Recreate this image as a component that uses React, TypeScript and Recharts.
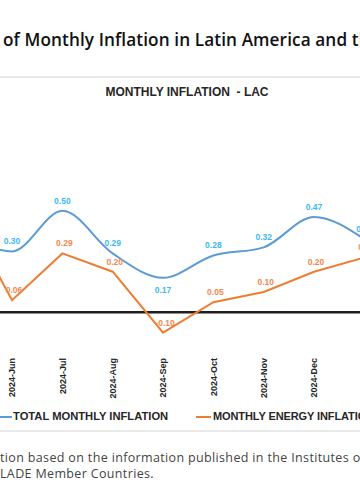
import { LineChart, Line, XAxis, YAxis, ReferenceLine, LabelList } from 'recharts';

const MONTHS = ['2024-May', '2024-Jun', '2024-Jul', '2024-Aug', '2024-Sep', '2024-Oct', '2024-Nov', '2024-Dec', '2025-Jan'];
const TOTAL = [0.4, 0.3, 0.5, 0.29, 0.17, 0.28, 0.32, 0.47, 0.36];
const ENERGY = [0.52, 0.06, 0.29, 0.2, -0.1, 0.05, 0.1, 0.2, 0.27];
const Y_DOMAIN = [-0.2, 0.7];

const BLUE = '#5b9bd5';
const ORANGE = '#ed7d31';
const BLUE_LABEL = '#3db8f2';
const ORANGE_LABEL = '#f0894d';
const CHART_FONT = '"Liberation Sans", Arial, sans-serif';
const TITLE_FONT = '"Open Sans", sans-serif';

const data = MONTHS.map((m, i) => ({ month: m, total: TOTAL[i], energy: ENERGY[i] }));
const minTotal = Math.min(...TOTAL);

function MonthTick({ x, y, payload }: any) {
  return (
    <text
      transform={`translate(${x},${y + 5}) rotate(-90)`}
      textAnchor="end"
      dy="0.35em"
      fontSize={9}
      fontWeight={700}
      fill="#262626"
      fontFamily={CHART_FONT}
    >
      {payload.value}
    </text>
  );
}

function totalLabel({ x, y, value }: any) {
  // el mínimo lleva la etiqueta debajo
  const below = value === minTotal;
  return (
    <text x={x} y={below ? y + 15 : y - 7} textAnchor="middle" fontSize={8.5} fontWeight={700} fill={BLUE_LABEL} fontFamily={CHART_FONT}>
      {Number(value).toFixed(2)}
    </text>
  );
}

function energyLabel({ x, y, value }: any) {
  return (
    <text x={x + 2} y={y - 7} textAnchor="middle" fontSize={8.5} fontWeight={700} fill={ORANGE_LABEL} fontFamily={CHART_FONT}>
      {Number(value).toFixed(2)}
    </text>
  );
}

export default function App() {
  return (
    <div style={{ position: 'absolute', left: 0, top: 0, width: 360, height: 504, overflow: 'hidden', background: '#fff' }}>
      <div
        style={{
          position: 'absolute', left: 3, top: 27, whiteSpace: 'nowrap',
          fontFamily: TITLE_FONT, fontWeight: 600, fontSize: 17.2, letterSpacing: 0.1, color: '#111', lineHeight: '26px',
        }}
      >
        of Monthly Inflation in Latin America and the Caribbean
      </div>
      <div style={{ position: 'absolute', left: 0, top: 76, width: 360, height: 2, background: '#e9e9e9' }} />

      <div
        style={{
          position: 'absolute', left: 0, top: 85, width: 374, textAlign: 'center', whiteSpace: 'nowrap',
          fontFamily: CHART_FONT, fontWeight: 700, fontSize: 12, color: '#262626', lineHeight: '14px',
        }}
      >
        MONTHLY INFLATION&nbsp; - LAC
      </div>

      <div style={{ position: 'absolute', left: -60, top: 0 }}>
        <LineChart width={460} height={504} data={data} margin={{ top: 170.2, right: 35.6, bottom: 121.1, left: 21.7 }}>
          <XAxis
            dataKey="month"
            axisLine={false}
            tickLine={false}
            tickSize={0}
            tickMargin={0}
            interval={0}
            height={30}
            padding={{ left: 0, right: 0 }}
            tick={<MonthTick />}
          />
          <YAxis hide domain={Y_DOMAIN} />
          <ReferenceLine y={0} stroke="#1f1f1f" strokeWidth={2.5} />
          <Line type="monotone" dataKey="total" stroke={BLUE} strokeWidth={2} dot={false} isAnimationActive={false}>
            <LabelList dataKey="total" content={totalLabel} />
          </Line>
          <Line type="linear" dataKey="energy" stroke={ORANGE} strokeWidth={2} dot={false} isAnimationActive={false}>
            <LabelList dataKey="energy" content={energyLabel} />
          </Line>
        </LineChart>
      </div>

      <div style={{ position: 'absolute', left: -3, top: 416, width: 15, height: 2, background: BLUE }} />
      <div
        style={{
          position: 'absolute', left: 13, top: 409, whiteSpace: 'nowrap',
          fontFamily: CHART_FONT, fontWeight: 700, fontSize: 11.2, color: '#262626', lineHeight: '14px',
        }}
      >
        TOTAL MONTHLY INFLATION
      </div>
      <div style={{ position: 'absolute', left: 196, top: 416, width: 15, height: 2, background: ORANGE }} />
      <div
        style={{
          position: 'absolute', left: 213, top: 409, whiteSpace: 'nowrap',
          fontFamily: CHART_FONT, fontWeight: 700, fontSize: 11, letterSpacing: -0.1, color: '#262626', lineHeight: '14px',
        }}
      >
        MONTHLY ENERGY INFLATION
      </div>
      <div style={{ position: 'absolute', left: 0, top: 430, width: 360, height: 2, background: '#e9e9e9' }} />

      <div
        style={{
          position: 'absolute', left: 0, top: 450, whiteSpace: 'nowrap',
          fontFamily: TITLE_FONT, fontSize: 12.5, letterSpacing: 0.35, color: '#444', lineHeight: '16px',
        }}
      >
        <div>tion based on the information published in the Institutes of Statistics of</div>
        <div>LADE Member Countries.</div>
      </div>
    </div>
  );
}
